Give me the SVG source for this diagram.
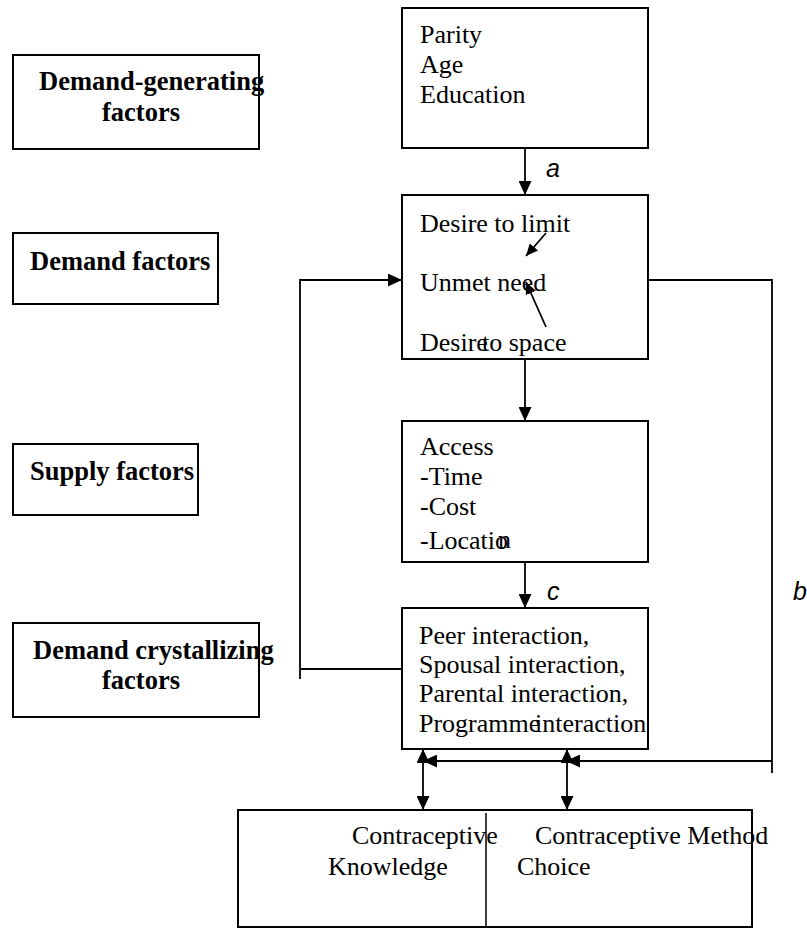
<svg xmlns="http://www.w3.org/2000/svg" width="807" height="928" viewBox="0 0 807 928">
<style>
.box{fill:#fff;stroke:#000;stroke-width:2}
.t{font-family:"Liberation Serif","Times New Roman",serif;font-size:26px;fill:#000}
.b{font-family:"Liberation Serif","Times New Roman",serif;font-size:26.5px;font-weight:bold;fill:#000}
.lbl{font-family:"Liberation Sans",Arial,sans-serif;font-size:25px;font-style:italic;fill:#000}
.ln{fill:none;stroke:#000;stroke-width:1.8}
</style>
<defs>
<marker id="ah" markerUnits="userSpaceOnUse" markerWidth="14" markerHeight="13" refX="14" refY="6.5" orient="auto-start-reverse">
<path d="M0,0 L14,6.5 L0,13 z" fill="#000"/>
</marker>
<marker id="sh" markerUnits="userSpaceOnUse" markerWidth="12" markerHeight="11" refX="12" refY="5.5" orient="auto">
<path d="M0,0 L12,5.5 L0,11 z" fill="#000"/>
</marker>
</defs>
<g id="demand-generating">
<rect class="box" x="13" y="55" width="246" height="94"/>
<text class="b" x="39" y="90">Demand-generating</text>
<text class="b" x="102" y="121">factors</text>
</g>
<g id="demand-factors">
<rect class="box" x="13" y="233" width="205" height="71"/>
<text class="b" x="30" y="270">Demand factors</text>
</g>
<g id="supply-factors">
<rect class="box" x="13" y="444" width="185" height="71"/>
<text class="b" x="30" y="480">Supply factors</text>
</g>
<g id="demand-crystallizing">
<rect class="box" x="13" y="623" width="246" height="94"/>
<text class="b" x="33" y="659">Demand crystallizing</text>
<text class="b" x="102" y="689">factors</text>
</g>
<g id="parity">
<rect class="box" x="402" y="8" width="246" height="140"/>
<text class="t" x="420" y="43">Parity</text>
<text class="t" x="420" y="73">Age</text>
<text class="t" x="420" y="103">Education</text>
</g>
<g id="desire">
<rect class="box" x="402" y="195" width="246" height="164"/>
<text class="t" x="420" y="232">Desire to limit</text>
<text class="t" x="420" y="291">Unmet need</text>
<text class="t" x="420" y="351">Desire</text>
<text class="t" x="482" y="351">to space</text>
</g>
<g id="access">
<rect class="box" x="402" y="421" width="246" height="141"/>
<text class="t" x="420" y="455">Access</text>
<text class="t" x="420" y="485">-Time</text>
<text class="t" x="420" y="515">-Cost</text>
<text class="t" x="420" y="549">-Locatio</text>
<text class="t" x="498" y="548">n</text>
</g>
<g id="interaction">
<rect class="box" x="402" y="608" width="246" height="141"/>
<text class="t" x="419" y="644">Peer interaction,</text>
<text class="t" x="419" y="673">Spousal interaction,</text>
<text class="t" x="419" y="702">Parental interaction,</text>
<text class="t" x="419" y="732">Programme</text>
<text class="t" x="535" y="732">interaction</text>
</g>
<g id="outcomes">
<rect class="box" x="238" y="810" width="514" height="117"/>
<line x1="486" y1="813" x2="486" y2="927" stroke="#000" stroke-width="1.5"/>
<text class="t" x="352" y="844">Contraceptive</text>
<text class="t" x="328" y="875">Knowledge</text>
<text class="t" x="535" y="844">Contraceptive Method</text>
<text class="t" x="517" y="875">Choice</text>
</g>
<g id="connectors">
<line class="ln" x1="525" y1="148" x2="525" y2="195" marker-end="url(#ah)"/>
<line class="ln" x1="525" y1="359" x2="525" y2="421" marker-end="url(#ah)"/>
<line class="ln" x1="525" y1="562" x2="525" y2="608" marker-end="url(#ah)"/>
<line class="ln" x1="546" y1="233" x2="526" y2="256" marker-end="url(#sh)"/>
<line class="ln" x1="546" y1="327" x2="526" y2="282" marker-end="url(#sh)"/>
<polyline class="ln" points="402,669 300,669"/>
<polyline class="ln" points="300,679 300,280 402,280" marker-end="url(#ah)"/>
<polyline class="ln" points="648,280 772,280 772,773"/>
<line class="ln" x1="772" y1="761" x2="566" y2="761" marker-end="url(#ah)"/>
<line class="ln" x1="566" y1="761" x2="423" y2="761" marker-end="url(#ah)"/>
<line class="ln" x1="423" y1="749" x2="423" y2="810" marker-start="url(#ah)" marker-end="url(#ah)"/>
<line class="ln" x1="567" y1="749" x2="567" y2="810" marker-start="url(#ah)" marker-end="url(#ah)"/>
<text class="lbl" x="546" y="177">a</text>
<text class="lbl" x="547" y="600">c</text>
<text class="lbl" x="793" y="600">b</text>
</g>
</svg>
